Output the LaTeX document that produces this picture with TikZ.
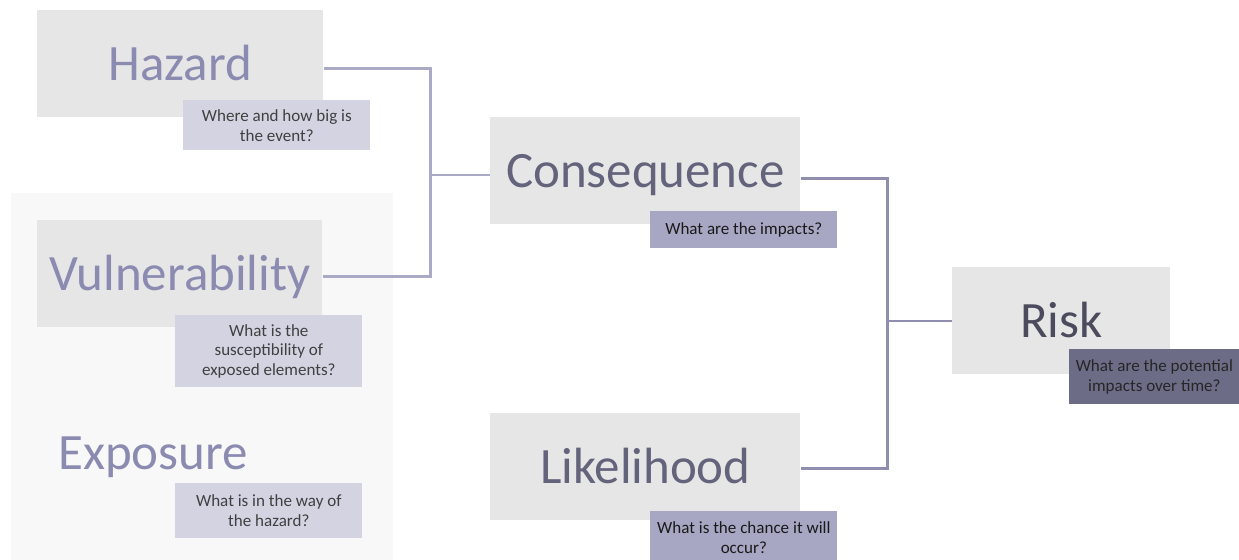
\documentclass[tikz,border=0pt]{standalone}
\usepackage{fontspec}
\setmainfont{Carlito}
\usetikzlibrary{positioning}

\definecolor{boxgray}{HTML}{E6E6E6}
\definecolor{panelgray}{HTML}{F8F8F8}
\definecolor{lavtext}{HTML}{8B8AB1}
\definecolor{midtext}{HTML}{64637C}
\definecolor{darktext}{HTML}{4C4B5E}
\definecolor{qlight}{HTML}{D4D3E2}
\definecolor{qmid}{HTML}{A7A6C3}
\definecolor{qdark}{HTML}{6D6C87}
\definecolor{linklight}{HTML}{ABAAC6}
\definecolor{linkdark}{HTML}{8F8EAF}

\tikzset{
  bigword/.style={inner sep=0pt, text height=22pt, text depth=3pt,
    font=\fontsize{29}{29}\selectfont},
  factor/.style={bigword, fill=boxgray, anchor=north west,
    minimum width=#1, minimum height=2.13cm},
  question/.style={anchor=north west, inner sep=0pt, align=center,
    minimum width=3.74cm, text=black!75, font=\fontsize{9.7}{11.3}\selectfont},
  link/.style={line width=1.7pt}
}

\begin{document}
\begin{tikzpicture}[x=0.02cm, y=-0.02cm]
  \useasboundingbox (0,0) rectangle (1239,560);
  \fill[panelgray] (11,193) rectangle (393,560);

  \node (hazard) [factor=5.72cm, text=lavtext] at (37,10) {Hazard};
  \node (hazq) [question, fill=qlight, minimum height=1cm] at (183,100) {Where and how big is\\the event?};

  \node (vuln) [factor=5.7cm, text=lavtext] at (37,220) {Vulnerability};
  \node (vulnq) [question, fill=qlight, minimum height=1.44cm] at (175,315) {What is the\\susceptibility of\\exposed elements?};

  \node (expo) [bigword, text=lavtext] at (153,453) {Exposure};
  \node (expoq) [question, fill=qlight, minimum height=1.1cm] at (175,483) {What is in the way of\\the hazard?};

  \node (conseq) [factor=6.2cm, text=midtext] at (490,117) {Consequence};
  \node (conseqq) [question, fill=qmid, text=black!90, minimum height=0.74cm] at (650,211) {What are the impacts?};

  \node (likeli) [factor=6.2cm, text=midtext] at (490,413) {Likelihood};
  \node (likeliq) [question, fill=qmid, text=black!90, minimum height=1.05cm] at (650,511) {What is the chance it will\\occur?};

  \node (risk) [factor=4.36cm, text=darktext] at (952,267) {Risk};
  \node (riskq) [question, fill=qdark, text=black!85, minimum width=3.4cm, minimum height=1.1cm] at (1069,349) {What are the potential\\impacts over time?};

  \coordinate (hv) at (430,175);
  \coordinate (cl) at (887,321);

  \draw[link, linklight] ([yshift=-0.1cm]hazard.east) -| (hv) |- ([yshift=-0.05cm]vuln.east);
  \draw[link, linklight] (hv) -- (hv -| conseq.west);
  \draw[link, linkdark] ([yshift=-0.15cm]conseq.east) -| (cl) |- ([yshift=-0.03cm]likeli.east);
  \draw[link, linkdark] (cl) -- (cl -| risk.west);
\end{tikzpicture}
\end{document}
